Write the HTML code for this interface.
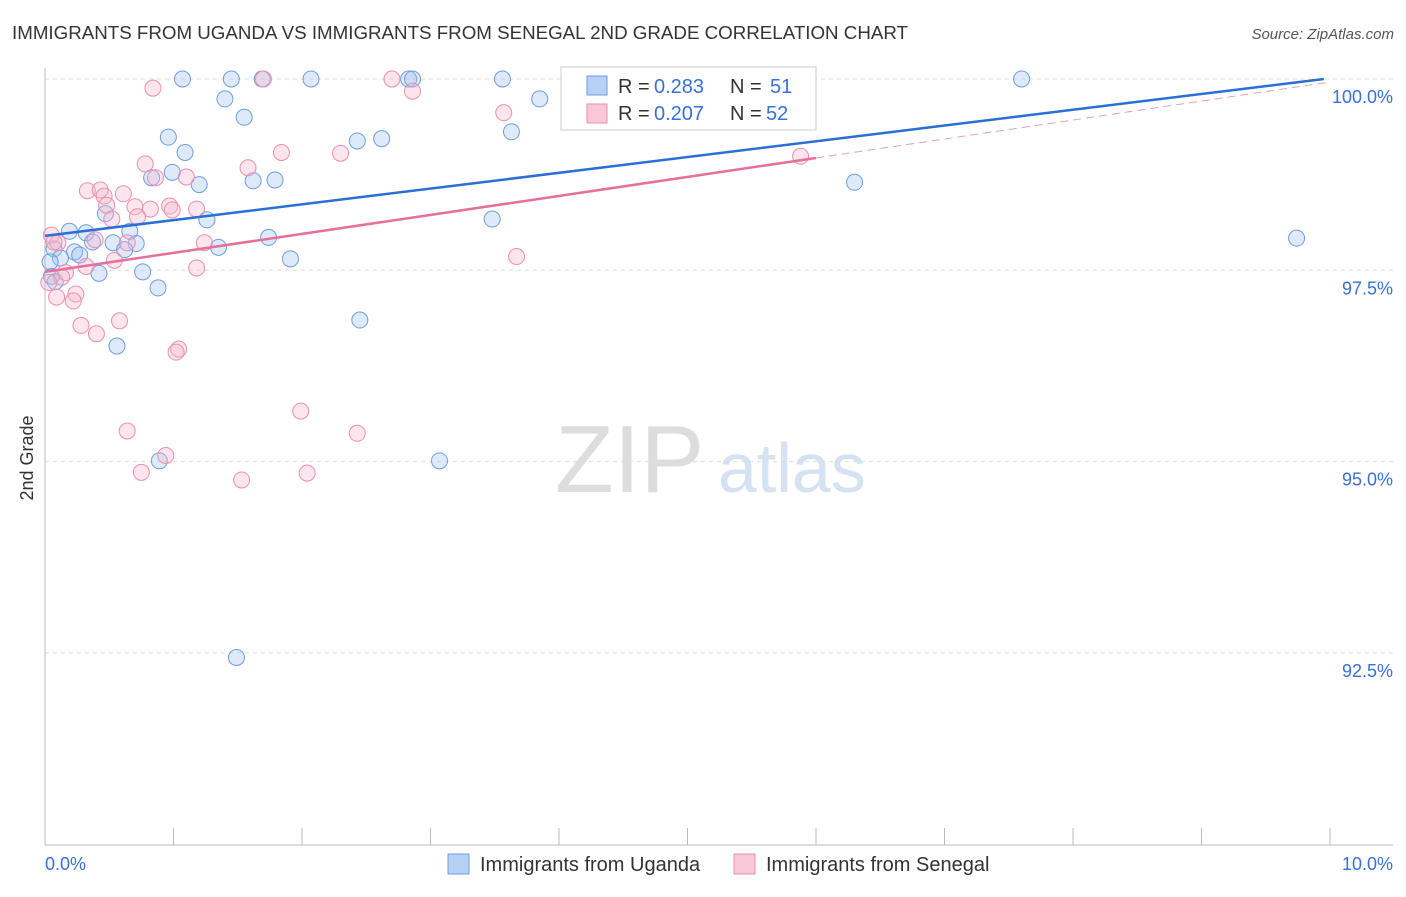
<!DOCTYPE html>
<html><head><meta charset="utf-8"><style>
body{margin:0;background:#fff;font-family:"Liberation Sans",sans-serif;}
svg text{font-family:"Liberation Sans",sans-serif;}
</style></head><body>
<svg id="chart" width="1406" height="892" xmlns="http://www.w3.org/2000/svg">
<text x="12" y="39" font-size="18" fill="#333" textLength="896" lengthAdjust="spacingAndGlyphs">IMMIGRANTS FROM UGANDA VS IMMIGRANTS FROM SENEGAL 2ND GRADE CORRELATION CHART</text>
<text x="1394" y="39" font-size="15" fill="#555" text-anchor="end" font-style="italic">Source: ZipAtlas.com</text>
<text x="33" y="458" font-size="18" fill="#333" text-anchor="middle" transform="rotate(-90 33 458)">2nd Grade</text>
<text x="555" y="492" font-size="96" fill="#ddd" font-family="Liberation Serif">ZIP</text>
<text x="718" y="492" font-size="70" fill="#d5e2f3">atlas</text>
<g id="grid"></g>
<g id="pts"></g>
<g id="lines"></g>
<g>
<rect x="561" y="67" width="255" height="63" fill="#fff" stroke="#ccc"/>
<rect x="587" y="76" width="20" height="19" fill="#b7d0f5" stroke="#6f9de0"/>
<text x="618" y="93" font-size="20" fill="#333">R = </text><text x="654" y="93" font-size="20" fill="#3a6fd8">0.283</text>
<text x="730" y="93" font-size="20" fill="#333">N = </text><text x="770" y="93" font-size="20" fill="#3a6fd8">51</text>
<rect x="587" y="104" width="20" height="19" fill="#f9c7d7" stroke="#ea8fb0"/>
<text x="618" y="120" font-size="20" fill="#333">R = </text><text x="654" y="120" font-size="20" fill="#3a6fd8">0.207</text>
<text x="730" y="120" font-size="20" fill="#333">N = </text><text x="766" y="120" font-size="20" fill="#3a6fd8">52</text>
</g>
<g>
<rect x="448" y="854" width="21" height="20" fill="#b7d0f5" stroke="#6f9de0"/>
<text x="480" y="871" font-size="20" fill="#333">Immigrants from Uganda</text>
<rect x="734" y="854" width="21" height="20" fill="#f9c7d7" stroke="#ea8fb0"/>
<text x="766" y="871" font-size="20" fill="#333">Immigrants from Senegal</text>
</g>
</svg>
<script>
const yTicks=[100,97.5,95,92.5];
const yTickLabels=["100.0%","97.5%","95.0%","92.5%"];
const xTickLabels=["0.0%","10.0%"];
const ugandaX=[1.07,1.45,1.69,2.07,2.83,2.86,3.56,7.60,1.40,3.85,1.55,0.96,3.63,2.43,2.62,1.09,0.99,0.83,1.20,1.62,1.79,6.30,0.47,1.26,3.48,0.19,0.32,0.66,0.53,0.71,0.62,0.37,0.07,0.23,0.12,0.27,1.74,1.35,1.91,9.74,0.76,0.42,0.05,0.88,2.45,0.56,0.89,3.07,1.49,0.04,0.08];
const ugandaY=[100,100,100,100,100,100,100,100,99.74,99.74,99.50,99.24,99.31,99.19,99.22,99.04,98.78,98.71,98.62,98.67,98.68,98.65,98.24,98.16,98.17,98.01,97.99,98.01,97.86,97.85,97.77,97.87,97.78,97.74,97.66,97.70,97.93,97.80,97.65,97.92,97.48,97.46,97.42,97.27,96.85,96.51,95.01,95.01,92.44,97.61,97.35];
const senegalX=[0.84,1.70,2.70,2.86,3.57,1.84,2.30,5.88,0.78,1.58,0.86,1.10,0.33,0.43,0.61,0.46,0.48,0.70,0.82,0.97,1.18,0.72,0.52,0.99,3.67,0.05,0.10,0.39,1.24,0.64,0.54,0.32,1.18,0.16,0.13,0.03,0.24,0.09,0.22,0.28,0.58,0.40,1.04,1.02,1.99,0.64,2.43,0.94,0.75,2.04,1.53,0.07];
const senegalY=[99.88,100,100,99.84,99.56,99.04,99.03,98.99,98.89,98.84,98.71,98.72,98.54,98.55,98.50,98.47,98.35,98.33,98.30,98.34,98.30,98.20,98.17,98.29,97.68,97.96,97.86,97.90,97.86,97.86,97.63,97.55,97.53,97.47,97.41,97.34,97.19,97.15,97.10,96.78,96.84,96.67,96.47,96.43,95.66,95.40,95.37,95.08,94.86,94.85,94.76,97.87];
// trend lines: [intercept, slope]
const ugandaTrend=[97.95,0.206];
const senegalTrend=[97.48,0.248];
const senegalSolidEnd=[6.0];
const X0=45,X1=1330,YT=79,YB=845;
const xs=v=>X0+(X1-X0)*v/10;
const ys=v=>YT+(100-v)*76.52;
const NS="http://www.w3.org/2000/svg";
function mk(tag,attrs,parent){const e=document.createElementNS(NS,tag);for(const k in attrs)e.setAttribute(k,attrs[k]);parent.appendChild(e);return e;}
const grid=document.getElementById('grid');
yTicks.forEach((t,i)=>{
 const l=mk('line',{x1:X0,x2:1393,y1:ys(t),y2:ys(t),stroke:'#ddd','stroke-dasharray':'4,4'},grid);
 
 
 const tx=mk('text',{x:1393,y:ys(t)+24,'font-size':18,fill:'#3a6fd8','text-anchor':'end'},grid);
 tx.textContent=yTickLabels[i];
 
 
});
const ax=mk('line',{x1:X0,x2:X0,y1:68,y2:YB,stroke:'#bbb'},grid);


const bx=mk('line',{x1:X0,x2:1393,y1:YB,y2:YB,stroke:'#bbb'},grid);


for(let i=0;i<=10;i++){const t=mk('line',{x1:xs(i),x2:xs(i),y1:828,y2:YB,stroke:'#bbb'},grid);
 
 }
[[0,'start',45],[10,'end',1393]].forEach((d,i)=>{const t=mk('text',{x:d[2],y:870,'font-size':18,fill:'#3a6fd8','text-anchor':d[1]},grid);t.textContent=xTickLabels[i];
 
 });
const pts=document.getElementById('pts');
ugandaX.forEach((x,i)=>{const c=mk('circle',{cx:xs(x),cy:ys(ugandaY[i]),r:8,fill:'rgba(160,195,240,0.35)',stroke:'#6f9de0','stroke-width':1},pts);
 
 });
senegalX.forEach((x,i)=>{const c=mk('circle',{cx:xs(x),cy:ys(senegalY[i]),r:8,fill:'rgba(245,180,200,0.35)',stroke:'#ea8fb0','stroke-width':1},pts);
 
 });
const lines=document.getElementById('lines');
const [ua,ub]=ugandaTrend;
const uEnd=Math.min(10,(100-ua)/ub);
const ul=mk('line',{x1:xs(0),y1:ys(ua),x2:xs(uEnd),y2:ys(ua+ub*uEnd),stroke:'#2a6fd6','stroke-width':2.5},lines);


const [sa,sb]=senegalTrend;
const sMax=senegalSolidEnd[0];
const sl=mk('line',{x1:xs(0),y1:ys(sa),x2:xs(sMax),y2:ys(sa+sb*sMax),stroke:'#e5709a','stroke-width':2.5},lines);


const sd=mk('line',{x1:xs(sMax),y1:ys(sa+sb*sMax),x2:xs(10),y2:ys(sa+sb*10),stroke:'#e5a0b8','stroke-width':1,'stroke-dasharray':'8,5'},lines);


</script>
</body></html>
